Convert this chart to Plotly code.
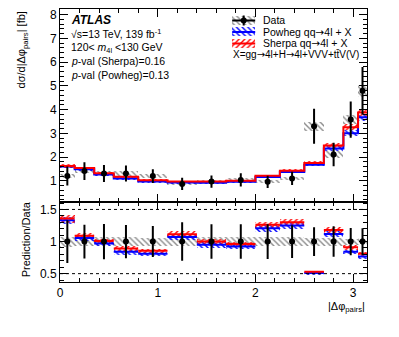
import plotly.graph_objects as go

# ---------------- data ----------------
bin_edges = [0.0, 0.15, 0.35, 0.55, 0.8, 1.1, 1.4, 1.7, 2.0, 2.25, 2.5, 2.7, 2.9, 3.05, 3.1416]
data_vals = [1.20, 1.41, 1.31, 1.31, 1.20, 0.87, 0.97, 1.04, 0.96, 1.10, 3.30, 2.11, 3.58, 4.80]
data_err = [0.40, 0.37, 0.36, 0.34, 0.29, 0.26, 0.26, 0.28, 0.26, 0.28, 0.74, 0.50, 0.76, 1.00]
data_syst = [0.09, 0.10, 0.09, 0.09, 0.08, 0.06, 0.07, 0.07, 0.07, 0.08, 0.19, 0.14, 0.18, 0.25]
sherpa_vals = [1.63, 1.54, 1.32, 1.17, 1.03, 0.97, 0.97, 1.00, 1.21, 1.43, 1.75, 2.49, 3.26, 3.88]
sherpa_err = [0.07, 0.06, 0.05, 0.05, 0.04, 0.04, 0.04, 0.04, 0.05, 0.06, 0.07, 0.10, 0.13, 0.15]
powheg_vals = [1.60, 1.49, 1.27, 1.10, 0.97, 0.93, 0.92, 0.96, 1.16, 1.375, 1.68, 2.36, 3.01, 3.68]
powheg_err = [0.07, 0.06, 0.05, 0.05, 0.04, 0.04, 0.04, 0.04, 0.05, 0.06, 0.07, 0.10, 0.12, 0.15]
x_ticks = [0, 1, 2, 3]
ratio_ticks = [0.5, 1, 1.5]

FONT = "Liberation Sans"
RED = "#ff0000"
BLUE = "#0000ff"
GREY = "#8c8c8c"
ARROW = '<span style="font-family:DejaVu Sans">\u2192</span>'

centers = [(a + b) / 2 for a, b in zip(bin_edges[:-1], bin_edges[1:])]
widths = [b - a for a, b in zip(bin_edges[:-1], bin_edges[1:])]

fig = go.Figure()


def hatched_bars(xs, ws, lo, hi, color, shape, xa, ya):
    return go.Bar(
        x=xs, width=ws, base=lo, y=[h - l for l, h in zip(lo, hi)],
        marker=dict(color=color, line=dict(width=0),
                    pattern=dict(shape=shape, size=4, solidity=0.35, fgcolor=color,
                                 bgcolor="rgba(0,0,0,0)", fillmode="replace")),
        xaxis=xa, yaxis=ya, showlegend=False, hoverinfo="skip")


# ---------- main panel ----------
fig.add_trace(hatched_bars(centers, widths,
                           [v - e for v, e in zip(data_vals, data_syst)],
                           [v + e for v, e in zip(data_vals, data_syst)], GREY, "\\", "x", "y"))
fig.add_trace(hatched_bars(centers, widths,
                           [v - e for v, e in zip(powheg_vals, powheg_err)],
                           [v + e for v, e in zip(powheg_vals, powheg_err)], BLUE, "\\", "x", "y"))
fig.add_trace(hatched_bars(centers, widths,
                           [v - e for v, e in zip(sherpa_vals, sherpa_err)],
                           [v + e for v, e in zip(sherpa_vals, sherpa_err)], RED, "/", "x", "y"))
for vals, col in [(powheg_vals, BLUE), (sherpa_vals, RED)]:
    fig.add_trace(go.Scatter(x=bin_edges, y=vals + [vals[-1]], mode="lines", line_shape="hv",
                             line=dict(color=col, width=2), xaxis="x", yaxis="y",
                             showlegend=False, hoverinfo="skip"))
fig.add_trace(go.Scatter(x=centers, y=data_vals, mode="markers",
                         marker=dict(color="black", size=6),
                         error_y=dict(type="data", array=data_err, color="black", thickness=2, width=0),
                         xaxis="x", yaxis="y", showlegend=False))

# ---------- ratio panel ----------
ratio_syst = [s / d for s, d in zip(data_syst, data_vals)]
fig.add_trace(hatched_bars(centers, widths, [1 - r for r in ratio_syst], [1 + r for r in ratio_syst],
                           GREY, "\\", "x2", "y2"))
for vals, errs, col, shp in [(powheg_vals, powheg_err, BLUE, "\\"), (sherpa_vals, sherpa_err, RED, "/")]:
    r = [v / d for v, d in zip(vals, data_vals)]
    re = [e / d for e, d in zip(errs, data_vals)]
    fig.add_trace(hatched_bars(centers, widths, [a - b for a, b in zip(r, re)],
                               [a + b for a, b in zip(r, re)], col, shp, "x2", "y2"))
for vals, col in [(powheg_vals, BLUE), (sherpa_vals, RED)]:
    xs, ys = [], []
    for a, b, v, d in zip(bin_edges[:-1], bin_edges[1:], vals, data_vals):
        xs += [a, b, None]
        ys += [v / d, v / d, None]
    fig.add_trace(go.Scatter(x=xs, y=ys, mode="lines", line=dict(color=col, width=2),
                             xaxis="x2", yaxis="y2", showlegend=False, hoverinfo="skip"))
fig.add_trace(go.Scatter(x=centers, y=[1] * len(centers), mode="markers",
                         marker=dict(color="black", size=6),
                         error_y=dict(type="data", array=[e / d for e, d in zip(data_err, data_vals)],
                                      color="black", thickness=2, width=0),
                         xaxis="x2", yaxis="y2", showlegend=False))

# ---------- legend (drawn in a pixel-coordinate overlay) ----------
LX0, LX1 = 232, 255
LXC = (LX0 + LX1) / 2
leg_rows = [(20.5, GREY, "\\"), (32.0, BLUE, "\\"), (43.5, RED, "/")]
for yc, col, shp in leg_rows:
    fig.add_trace(hatched_bars([LXC], [LX1 - LX0], [yc + 4.5], [yc - 4.5], col, shp, "x3", "y3"))
for yc, col in [(32.0, BLUE), (43.5, RED)]:
    fig.add_trace(go.Scatter(x=[LX0, LX1], y=[yc, yc], mode="lines", line=dict(color=col, width=2),
                             xaxis="x3", yaxis="y3", showlegend=False, hoverinfo="skip"))
fig.add_trace(go.Scatter(x=[LX0, LX1], y=[20.5, 20.5], mode="lines", line=dict(color="black", width=2),
                         xaxis="x3", yaxis="y3", showlegend=False, hoverinfo="skip"))
fig.add_trace(go.Scatter(x=[LXC], y=[20.5], mode="markers", marker=dict(color="black", size=6),
                         error_y=dict(type="constant", value=5, color="black", thickness=2, width=0),
                         xaxis="x3", yaxis="y3", showlegend=False, hoverinfo="skip"))

legend_texts = [(20.5, "Data"), (32.0, "Powheg qq" + ARROW + "4l + X"), (43.5, "Sherpa qq" + ARROW + "4l + X")]
annotations = []
for yc, t in legend_texts:
    annotations.append(dict(x=261, y=yc, xref="x3", yref="y3", text=t, showarrow=False,
                            xanchor="left", yanchor="middle", font=dict(size=10.5, family=FONT, color="black")))
annotations.append(dict(x=231, y=55, xref="x3", yref="y3",
                        text="X=gg" + ARROW + "4l+H" + ARROW + "4l+VVV+tt\u0304V(V)", showarrow=False,
                        xanchor="left", yanchor="middle", font=dict(size=10, family=FONT, color="black")))

# top-left labels
annotations.append(dict(x=69, y=20.5, xref="x3", yref="y3", text="<b><i>ATLAS</i></b>", showarrow=False,
                        xanchor="left", yanchor="middle", font=dict(size=12, family=FONT, color="black")))
info = ["\u221as=13 TeV, 139 fb<sup>-1</sup>",
        "120< <i>m</i><sub>4l</sub> <130 GeV",
        "<i>p</i>-val (Sherpa)=0.16",
        "<i>p</i>-val (Powheg)=0.13"]
for i, t in enumerate(info):
    annotations.append(dict(x=69, y=34 + 13.7 * i, xref="x3", yref="y3", text=t, showarrow=False,
                            xanchor="left", yanchor="middle", font=dict(size=10.5, family=FONT, color="black")))

# axis titles
annotations.append(dict(x=-0.124, y=1.0, xref="paper", yref="paper",
                        text="d\u03c3/d|\u0394\u03c6<sub>pairs</sub>| [fb]", textangle=-90, showarrow=False,
                        xanchor="center", yanchor="top", font=dict(size=11, family=FONT, color="black")))
annotations.append(dict(x=-0.11, y=0.157, xref="paper", yref="paper",
                        text="Prediction/Data", textangle=-90, showarrow=False,
                        xanchor="center", yanchor="middle", font=dict(size=11, family=FONT, color="black")))
annotations.append(dict(x=1.0, y=-0.092, xref="paper", yref="paper",
                        text="|\u0394\u03c6<sub>pairs</sub>|", showarrow=False,
                        xanchor="right", yanchor="middle", font=dict(size=11, family=FONT, color="black")))

axis_common = dict(showline=True, linecolor="black", linewidth=1, mirror="allticks",
                   ticks="inside", ticklen=8, tickcolor="black", tickwidth=1,
                   showgrid=False, zeroline=False, automargin=False,
                   tickfont=dict(size=12, family=FONT, color="black"))

RATIO_TOP = 0.294
fig.update_layout(
    template="none",
    width=399, height=337,
    margin=dict(l=60, r=32, t=9, b=55, autoexpand=False),
    paper_bgcolor="white", plot_bgcolor="rgba(0,0,0,0)",
    font=dict(family=FONT, color="black"),
    barmode="overlay", bargap=0, showlegend=False,
    xaxis=dict(axis_common, domain=[0, 1], anchor="y", range=[0, 3.1416], tickvals=x_ticks,
               showticklabels=False,
               minor=dict(ticks="inside", ticklen=4, dtick=0.2, tick0=0, tickcolor="black", showgrid=False)),
    yaxis=dict(axis_common, domain=[RATIO_TOP, 1], anchor="x", range=[0.12, 8.24], dtick=1, tick0=0,
               minor=dict(ticks="inside", ticklen=4, dtick=0.2, tick0=0, tickcolor="black", showgrid=False)),
    xaxis2=dict(axis_common, domain=[0, 1], anchor="y2", range=[0, 3.1416], tickvals=x_ticks,
                minor=dict(ticks="inside", ticklen=4, dtick=0.2, tick0=0, tickcolor="black", showgrid=False)),
    yaxis2=dict(axis_common, domain=[0, RATIO_TOP], anchor="x2", range=[0.37, 1.62], tickvals=ratio_ticks,
                minor=dict(ticks="inside", ticklen=4, dtick=0.1, tick0=0, tickcolor="black", showgrid=False)),
    xaxis3=dict(overlaying="x", range=[60, 366.7], visible=False, anchor="y3"),
    yaxis3=dict(overlaying="y", range=[202, 9], visible=False, anchor="x3"),
    annotations=annotations,
    shapes=[dict(type="line", xref="x2 domain", yref="y2", x0=0, x1=1, y0=v, y1=v,
                 line=dict(color="black", width=1, dash="dot")) for v in [0.5, 1.5]],
)

fig.write_html("out.html", config={"displayModeBar": False},
               post_script="document.body.style.margin='0px';")
